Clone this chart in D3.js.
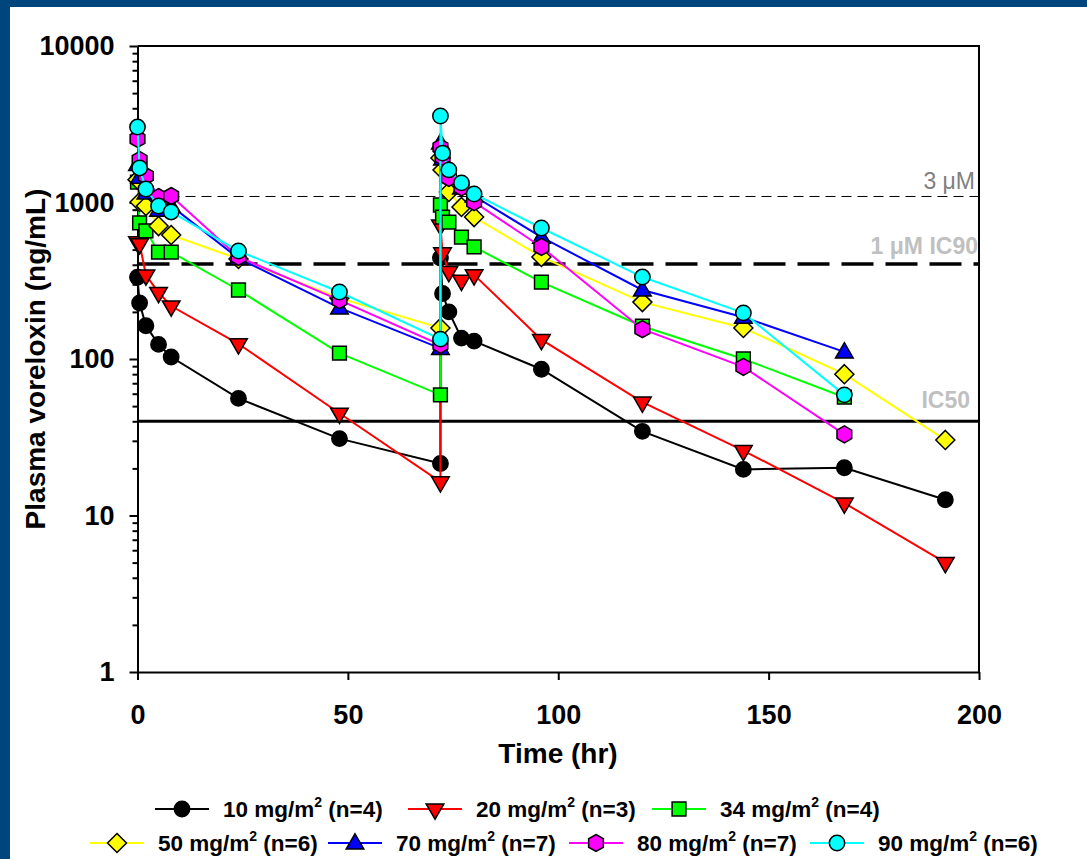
<!DOCTYPE html>
<html><head><meta charset="utf-8">
<script src="https://cdnjs.cloudflare.com/ajax/libs/d3/7.8.5/d3.min.js"></script>
<style>
body{margin:0;background:#00467d;}
text{font-family:"Liberation Sans",Arial,sans-serif;}
</style></head>
<body>
<svg width="1087" height="859"></svg>
<script>
// sampling times (hr), same for all dose groups
const times = [0,0.5,2,5,8,24,48,72,72,72.5,74,77,80,96,120,144,168,192];
// mean plasma concentrations (ng/mL) by dose
const c10 = [333,228,163,124,103,56,31,21.5,442,262,200,136,130,86,34.5,19.7,20.2,12.6];
const c20 = [560,545,344,266,218,125,45,16.4,718,476,362,318,345,133,53,26,12,5.0];
const c34 = [1350,740,659,482,482,276,109,59,964,807,750,600,520,310,162,100,57];
const c50 = [1400,1007,950,707,620,436,245,158,1923,1615,1167,936,807,449,231,158,80,30.4];
const c70 = [1750,1450,1150,895,950,440,212,117,2400,1900,1500,1240,1100,600,276,185,111];
const c80 = [2546,1870,1477,1084,1100,449,238,123,2250,1950,1435,1250,1007,520,155,89,33];
const c90 = [3035,1662,1220,950,870,490,268,134,3570,2070,1615,1334,1133,687,334,197,59];
const doses = ["10","20","34","50","70","80","90"];
const nums = [4,3,4,6,7,7,6];
const xTicks = [0,50,100,150,200];
const yTicks = [1,10,100,1000,10000];
// reference concentrations
const refVals = [1100,405,40];
const refLabels = ["3 \u03bcM","1 \u03bcM IC90","IC50"];

const colors = ["#000000","#ff0000","#00ff00","#ffff00","#0000ff","#ff00ff","#00ffff"];
const shapes = ["circle","down","square","diamond","up","hex","circle"];
const allVals = [c10,c20,c34,c50,c70,c80,c90];

const svg = d3.select("svg");
svg.append("rect").attr("x",10).attr("y",7).attr("width",1087).attr("height",859).attr("fill","#fff");

const x = d3.scaleLinear().domain([0,200]).range([137.5,979]);
const y = d3.scaleLog().domain([1,10000]).range([672,46]);

function shapePath(s){
  if(s=="circle") return d3.symbol(d3.symbolCircle,185)();
  if(s=="square") return d3.symbol(d3.symbolSquare,190)();
  if(s=="up") return d3.symbol(d3.symbolTriangle,135)();
  if(s=="down") return d3.symbol(d3.symbolTriangle,135)();
  if(s=="diamond") return "M0,-9.5L9.5,0L0,9.5L-9.5,0Z";
  if(s=="hex"){
    const r=8.5, p=[];
    for(let k=0;k<6;k++){const a=Math.PI/180*(-90+60*k);p.push([r*Math.cos(a),r*Math.sin(a)]);}
    return "M"+p.join("L")+"Z";
  }
}
function drawMarker(g,s,col,cx,cy){
  g.append("path").attr("d",shapePath(s))
   .attr("transform","translate("+cx+","+cy+")"+(s=="down"?" rotate(180)":"")+(s=="up"?" translate(0,1)":""))
   .attr("fill",col).attr("stroke","#000").attr("stroke-width",1.5);
}

// axes
const minor = [];
for(let d=1; d<10000; d*=10) for(let m=2;m<10;m++) minor.push(d*m);
svg.append("g").attr("transform","translate(137.5,0)")
  .call(d3.axisLeft(y).tickValues(yTicks).tickFormat(d3.format("d")).tickSize(8).tickSizeOuter(0).tickPadding(15));
svg.append("g").attr("transform","translate(137.5,0)")
  .call(d3.axisLeft(y).tickValues(minor).tickFormat("").tickSize(5).tickSizeOuter(0))
  .select(".domain").remove();
svg.append("g").attr("transform","translate(0,672)")
  .call(d3.axisBottom(x).tickValues(xTicks).tickSize(8).tickSizeOuter(0).tickPadding(25));
svg.selectAll(".domain, .tick line").attr("stroke","#000").attr("stroke-width",2);
svg.selectAll(".tick text").attr("font-size",27).attr("font-weight","bold").attr("fill","#000")
  .attr("font-family","Liberation Sans, Arial, sans-serif");
// frame
svg.append("path").attr("d","M137.5,46H979V672").attr("fill","none").attr("stroke","#000").attr("stroke-width",2);

// reference lines
const refStyle = [{w:1.2,dash:"10,6"},{w:3.5,dash:"32,12"},{w:3,dash:null}];
refVals.forEach((v,i)=>{
  const yy = i==0 ? Math.round(y(v))+0.5 : y(v);
  const l = svg.append("line").attr("x1",x(0)).attr("x2",x(200)).attr("y1",yy).attr("y2",yy)
    .attr("stroke","#000").attr("stroke-width",refStyle[i].w);
  if(refStyle[i].dash) l.attr("stroke-dasharray",refStyle[i].dash);
});
const refLab = [{x:975,y:189,fill:"#808080",fw:"normal"},{x:978,y:254,fill:"#c0c0c0",fw:"bold"},{x:970,y:408,fill:"#c0c0c0",fw:"bold"}];
refLabels.forEach((t,i)=>{
  svg.append("text").attr("x",refLab[i].x).attr("y",refLab[i].y).attr("text-anchor","end")
    .attr("font-size",23).attr("font-weight",refLab[i].fw).attr("fill",refLab[i].fill).text(t);
});

// series
const line = d3.line().x(d=>x(d[0])).y(d=>y(d[1]));
allVals.forEach((vals,i)=>{
  const pts = vals.map((v,j)=>[times[j],v]);
  const g = svg.append("g");
  g.append("path").attr("d",line(pts)).attr("fill","none").attr("stroke",colors[i]).attr("stroke-width",2);
  pts.forEach(p=>drawMarker(g,shapes[i],colors[i],x(p[0]),y(p[1])));
});

// axis titles
svg.append("text").attr("x",558).attr("y",763).attr("text-anchor","middle")
  .attr("font-size",28).attr("font-weight","bold").text("Time (hr)");
svg.append("text").attr("transform","translate(45,359) rotate(-90)").attr("text-anchor","middle")
  .attr("font-size",28).attr("font-weight","bold").text("Plasma voreloxin (ng/mL)");

// legend
const legPos = [[155,809],[408,809],[652,809],[90,843],[328,843],[569,843],[810,843]];
doses.forEach((d,i)=>{
  const [lx,ly] = legPos[i];
  const g = svg.append("g");
  g.append("line").attr("x1",lx).attr("x2",lx+54).attr("y1",ly).attr("y2",ly).attr("stroke",colors[i]).attr("stroke-width",2);
  drawMarker(g,shapes[i],colors[i],lx+27,ly);
  const t = g.append("text").attr("x",lx+68).attr("y",ly+8).attr("font-size",22.5).attr("font-weight","bold");
  t.append("tspan").text(d+" mg/m");
  t.append("tspan").attr("font-size",14).attr("dy",-10).text("2");
  t.append("tspan").attr("dy",10).text(" (n="+nums[i]+")");
});
</script>
</body></html>
